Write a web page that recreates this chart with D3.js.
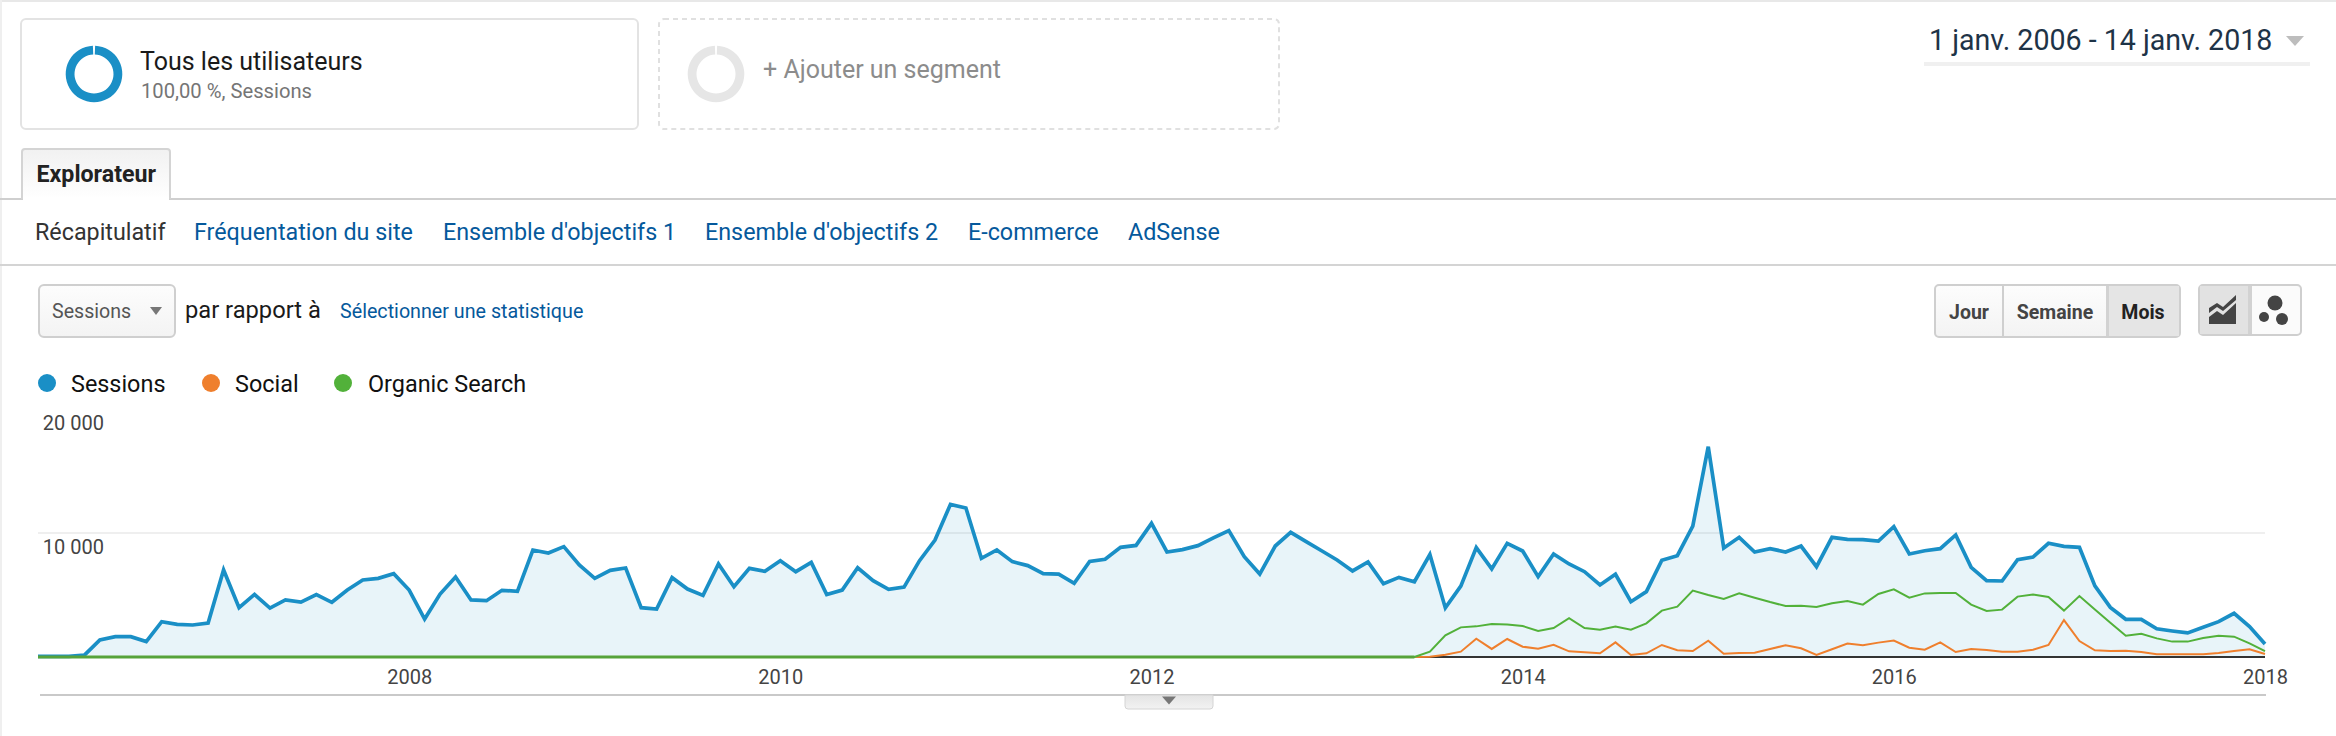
<!DOCTYPE html>
<html><head><meta charset="utf-8">
<script src="https://cdnjs.cloudflare.com/ajax/libs/d3/7.8.5/d3.min.js"></script>
<style>
html,body{margin:0;padding:0;background:#fff}
svg{display:block;font-family:Roboto,sans-serif}
</style></head><body><svg id="c" width="2336" height="736"></svg>
<script>
const months = d3.utcMonth.range(new Date(Date.UTC(2006,0,1)), new Date(Date.UTC(2018,1,1))).map(d3.utcFormat("%Y-%m"));
const sessions = [50,50,50,150,1370,1640,1640,1240,2850,2630,2580,2740,
7020,3980,5050,3950,4600,4430,5030,4410,5400,6210,6340,6720,
5400,3060,5080,6450,4600,4540,5380,5300,8630,8390,8900,7420,
6340,6990,7180,3980,3870,6400,5480,4970,7500,5670,7150,6910,
7770,6880,7630,5030,5400,7200,6150,5460,5640,7770,9430,12310,
12010,7960,8630,7690,7370,6720,6690,5940,7710,7880,8840,9000,
10780,8470,8660,8980,9600,10190,8090,6690,8950,10050,9300,8570,
7820,6940,7660,5910,6420,6070,8260,3960,5720,8820,7100,9170,
8550,6480,8310,7500,6880,5810,6670,4460,5270,7800,8170,10560,
16960,8790,9650,8470,8740,8470,8950,7280,9650,9490,9460,9350,
10510,8310,8570,8740,9840,7230,6160,6130,7850,8060,9170,8920,
8840,5730,4000,3040,3040,2280,2100,1940,2390,2850,3520,2450,1050];
const organic = [...new Array(90).fill(0),430,1750,2390,2470,2660,2630,2500,2100,2340,3140,2340,2200,2450,2200,2710,3740,4060,5350,5000,4680,5130,4780,4430,4110,4140,4030,4330,4520,4220,5080,5460,4780,5130,5160,5160,4220,3710,3820,4870,5030,4840,3740,4920,3840,2770,1720,1880,1500,1240,1240,1530,1720,1640,1100,480];
const social = [...new Array(90).fill(0),30,190,430,1480,650,1450,830,670,990,460,380,300,1180,160,300,970,540,480,1320,270,320,350,650,940,700,160,620,1080,940,1160,1320,750,590,1180,400,650,560,430,430,590,970,2980,1290,540,480,510,400,215,215,215,215,320,480,620,240];
const yTicks = [10000,20000];
const yearTicks = ["2008-01","2010-01","2012-01","2014-01","2016-01","2018-01"];
const legendNames = ["Sessions","Social","Organic Search"];
const legendColors = ["#1a8fc6","#ef7f2d","#52b13a"];
const navItems = ["Récapitulatif","Fréquentation du site","Ensemble d'objectifs 1","Ensemble d'objectifs 2","E-commerce","AdSense"];
const navX = [35,194,443,705,968,1128];

const svg = d3.select("#c");
const rect=(x,y,w,h,o={})=>{const r=svg.append("rect").attr("x",x).attr("y",y).attr("width",w).attr("height",h);for(const k in o)r.attr(k,o[k]);return r;};
const text=(x,y,t,size,fill,o={})=>{const e=svg.append("text").attr("x",x).attr("y",y).attr("font-size",size).attr("fill",fill).text(t);for(const k in o)e.attr(k,o[k]);return e;};
const tri=(cx,cy,w,h,fill)=>svg.append("path").attr("d",`M${cx-w/2},${cy-h/2}L${cx+w/2},${cy-h/2}L${cx},${cy+h/2}Z`).attr("fill",fill);

const defs=svg.append("defs");
const grad=defs.append("linearGradient").attr("id","btn").attr("x1",0).attr("x2",0).attr("y1",0).attr("y2",1);
grad.append("stop").attr("offset",0).attr("stop-color","#fdfdfd");
grad.append("stop").attr("offset",1).attr("stop-color","#f3f3f3");
const tabGrad=defs.append("linearGradient").attr("id","tab").attr("x1",0).attr("x2",0).attr("y1",0).attr("y2",1);
tabGrad.append("stop").attr("offset",0).attr("stop-color","#f1f1f1");
tabGrad.append("stop").attr("offset",1).attr("stop-color","#ffffff");
const hGrad=defs.append("linearGradient").attr("id","hnd").attr("x1",0).attr("x2",0).attr("y1",0).attr("y2",1);
hGrad.append("stop").attr("offset",0).attr("stop-color","#e4e4e4");
hGrad.append("stop").attr("offset",1).attr("stop-color","#f2f2f2");

// page frame
rect(0,0,2336,2,{fill:"#e8e8e8"});
rect(0,0,2,736,{fill:"#efefef"});

// segments
rect(21,19,617,110,{rx:5,fill:"#fff",stroke:"#e3e3e3","stroke-width":2});
rect(659,19,620,110,{rx:5,fill:"#fff",stroke:"#e0e0e0","stroke-width":2,"stroke-dasharray":"5 4"});
const arc=d3.arc();
svg.append("path").attr("transform","translate(94,74)").attr("fill","#1a8fc6")
  .attr("d",arc({innerRadius:19.5,outerRadius:28.3,startAngle:0.04,endAngle:2*Math.PI-0.04}));
svg.append("path").attr("transform","translate(716,74)").attr("fill","#e6e6e6")
  .attr("d",arc({innerRadius:19.5,outerRadius:28.3,startAngle:0.04,endAngle:2*Math.PI-0.04}));
text(140,70,"Tous les utilisateurs",25,"#1a1a1a");
text(141,98,"100,00 %, Sessions",20.2,"#757575");
text(763,78,"+ Ajouter un segment",25,"#8c8c8c");

// date range
text(1929,50,"1 janv. 2006 - 14 janv. 2018",28.6,"#1e3347");
tri(2295,41,18,10,"#bdbdbd");
rect(1924,62,386,4,{fill:"#f0f0f0"});

// tabs
rect(0,198,2336,2,{fill:"#cfcfcf"});
svg.append("path").attr("d","M22,199V152q0,-3 3,-3H167q3,0 3,3V199").attr("fill","url(#tab)").attr("stroke","#d4d4d4").attr("stroke-width",2);
rect(23,197,146,4,{fill:"#fff"});
text(36.5,182,"Explorateur",23.2,"#222",{"font-weight":700});
navItems.forEach((t,i)=>text(navX[i],240,t,23.3,i?"#05599c":"#333"));
rect(0,264,2336,2,{fill:"#d4d4d4"});

// dropdown row
rect(39,285,136,52,{rx:5,fill:"url(#btn)",stroke:"#cfcfcf","stroke-width":2});
text(52,318,"Sessions",19.6,"#555");
tri(156,311,12,8,"#777");
text(185,318,"par rapport à",23.7,"#1a1a1a");
text(340,318,"Sélectionner une statistique",19.7,"#05599c");

// view buttons
rect(1935,285,245,52,{rx:4,fill:"url(#btn)",stroke:"#cfcfcf","stroke-width":2});
rect(2107,286,72,50,{fill:"#e5e5e5"});
rect(2106,286,3,50,{fill:"#d2d2d2"});
rect(2002,285,2,52,{fill:"#cfcfcf"});
text(1969,319,"Jour",19.5,"#444",{"font-weight":700,"text-anchor":"middle"});
text(2055,319,"Semaine",19.5,"#444",{"font-weight":700,"text-anchor":"middle"});
text(2143,319,"Mois",19.5,"#222",{"font-weight":700,"text-anchor":"middle"});
rect(2199,285,102,50,{rx:4,fill:"#fbfbfb",stroke:"#cfcfcf","stroke-width":2});
rect(2200,286,48,48,{fill:"#e2e2e2"});
rect(2248,286,4,48,{fill:"#d2d2d2"});
svg.append("path").attr("d","M2209,308L2217,303L2223,307L2236,295V300L2223,311L2217,307L2209,313ZM2209,317L2217,311L2223,315L2236,303V324H2209Z").attr("fill","#444");
[[2275,303,7.5],[2264,317,5],[2282,319,6]].forEach(([x,y,r])=>svg.append("circle").attr("cx",x).attr("cy",y).attr("r",r).attr("fill","#444"));

// legend
const legendDots=[47,211,343], legendText=[71,235,368];
legendNames.forEach((n,i)=>{
  svg.append("circle").attr("cx",legendDots[i]).attr("cy",383).attr("r",9).attr("fill",legendColors[i]);
  text(legendText[i],391.5,n,23.4,"#111");
});

// chart
const x=d3.scalePoint().domain(months).range([38,2265]);
const y=d3.scaleLinear().domain([0,20000]).range([657,409]);
const rows=months.map((m,i)=>({m,s:sessions[i],o:organic[i],c:social[i]}));

svg.append("g").selectAll("line").data([10000]).join("line")
  .attr("x1",38).attr("x2",2265).attr("y1",d=>y(d)).attr("y2",d=>y(d)).attr("stroke","#efefef").attr("stroke-width",2);
svg.append("path").datum(rows).attr("fill",legendColors[0]).attr("fill-opacity",.1)
  .attr("d",d3.area().x(d=>x(d.m)).y0(y(0)).y1(d=>y(d.s)));

const gx=svg.append("g").attr("transform","translate(0,657)")
  .call(d3.axisBottom(x).tickValues(yearTicks).tickSize(0).tickPadding(13).tickFormat(d=>d.slice(0,4)));
gx.select(".domain").attr("stroke","#333").attr("stroke-width",2).attr("d","M38,0H2265");
gx.selectAll("text").attr("font-family","Roboto,sans-serif").attr("font-size",20).attr("fill","#444");

const gy=svg.append("g").attr("transform","translate(104,0)")
  .call(d3.axisLeft(y).tickValues(yTicks).tickSize(0).tickPadding(0).tickFormat(d=>d3.format(",")(d).replace(",", " ")));
gy.select(".domain").remove();
gy.selectAll("text").attr("font-family","Roboto,sans-serif").attr("font-size",20).attr("fill","#444").attr("dy",20);

const line=k=>d3.line().x(d=>x(d.m)).y(d=>y(d[k]));
svg.append("path").datum(rows).attr("fill","none").attr("stroke",legendColors[0]).attr("stroke-width",3.7).attr("stroke-linejoin","miter").attr("d",line("s"));
svg.append("path").datum(rows).attr("fill","none").attr("stroke",legendColors[1]).attr("stroke-width",2).attr("d",line("c"));
svg.append("path").datum(rows).attr("fill","none").attr("stroke",legendColors[2]).attr("stroke-width",2).attr("d",line("o"));
// organic sits thicker on the baseline while every other series is zero
svg.append("path").datum(rows.slice(0,90)).attr("fill","none").attr("stroke","#56a33a").attr("stroke-width",3).attr("d",line("o"));

// range footer
rect(40,694,2226,2,{fill:"#c9c9c9"});
svg.append("path").attr("d","M1125,695H1213V706q0,3 -3,3H1128q-3,0 -3,-3Z").attr("fill","url(#hnd)").attr("stroke","#d4d4d4");
tri(1169,700.5,14,8,"#777");
</script></body></html>
